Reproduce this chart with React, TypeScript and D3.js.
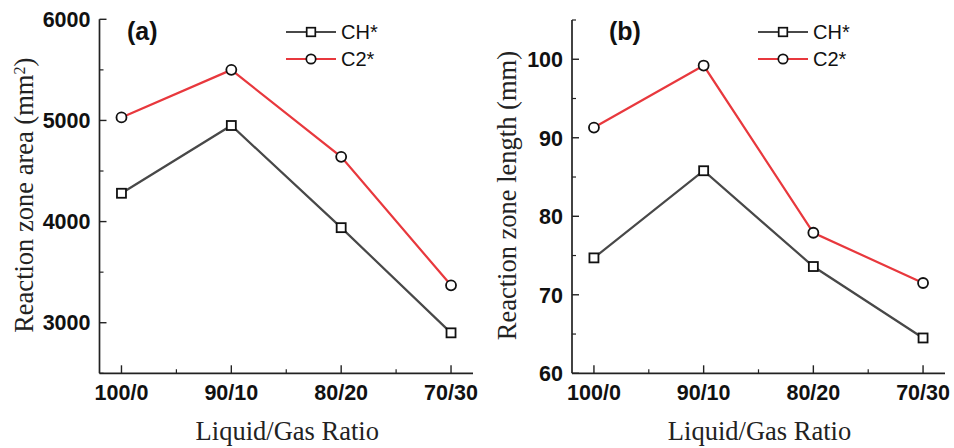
import React from "react";
import * as d3 from "d3";

const categories = ["100/0", "90/10", "80/20", "70/30"];
const seriesNames = ["CH*", "C2*"];

const areaCH = [4280, 4950, 3940, 2900];
const areaC2 = [5030, 5500, 4640, 3370];
const areaTicks = [3000, 4000, 5000, 6000];
const areaMinorTicks = [2500, 3500, 4500, 5500];

const lengthCH = [74.7, 85.8, 73.6, 64.5];
const lengthC2 = [91.3, 99.2, 77.9, 71.5];
const lengthTicks = [60, 70, 80, 90, 100];
const lengthMinorTicks = [65, 75, 85, 95, 105];

const COLORS = ["#484848", "#e8383d"];
const AXIS = "#222";

type PanelProps = {
  x0: number;
  x1: number;
  yTop: number;
  yBottom: number;
  domain: [number, number];
  ticks: number[];
  minor: number[];
  series: number[][];
  label: string;
  yTitle: React.ReactNode;
  yTitleX: number;
  legendX: number;
  panelLabelX: number;
};

function Panel(p: PanelProps) {
  const x = d3.scaleLinear().domain([-0.2, 3.2]).range([p.x0, p.x1]);
  const y = d3.scaleLinear().domain(p.domain).range([p.yBottom, p.yTop]);
  const line = d3
    .line<number>()
    .x((_, i) => x(i))
    .y((d) => y(d));
  const midX = (p.x0 + p.x1) / 2;
  const midY = (p.yTop + p.yBottom) / 2;
  const minorX = [0.5, 1.5, 2.5];
  return (
    <g>
      <line x1={p.x0} x2={p.x0} y1={y(p.domain[1])} y2={p.yBottom} stroke={AXIS} strokeWidth={1.7} />
      <line x1={p.x0} x2={p.x1} y1={p.yBottom} y2={p.yBottom} stroke={AXIS} strokeWidth={1.7} />
      {p.ticks.map((t) => (
        <g key={"yt" + t}>
          <line x1={p.x0} x2={p.x0 + 7} y1={y(t)} y2={y(t)} stroke={AXIS} strokeWidth={1.4} />
          <text
            x={p.x0 - 9}
            y={y(t)}
            dy="0.36em"
            textAnchor="end"
            fontFamily="Liberation Sans, Arial, sans-serif"
            fontWeight="bold"
            fontSize={21.5}
            fill="#111"
          >
            {t}
          </text>
        </g>
      ))}
      {p.minor.map((t) => (
        <line key={"ym" + t} x1={p.x0} x2={p.x0 + 4} y1={y(t)} y2={y(t)} stroke={AXIS} strokeWidth={1.2} />
      ))}
      {categories.map((c, i) => (
        <g key={"xt" + c}>
          <line x1={x(i)} x2={x(i)} y1={p.yBottom} y2={p.yBottom - 8} stroke={AXIS} strokeWidth={1.4} />
          <text
            x={x(i)}
            y={p.yBottom + 27}
            textAnchor="middle"
            fontFamily="Liberation Sans, Arial, sans-serif"
            fontWeight="bold"
            fontSize={21.5}
            fill="#111"
          >
            {c}
          </text>
        </g>
      ))}
      {minorX.map((m) => (
        <line key={"xm" + m} x1={x(m)} x2={x(m)} y1={p.yBottom} y2={p.yBottom - 4} stroke={AXIS} strokeWidth={1.2} />
      ))}
      <text
        x={midX + 1}
        y={440}
        textAnchor="middle"
        fontFamily="Liberation Serif, Times New Roman, serif"
        fontSize={26.5}
        fill="#222"
      >
        Liquid/Gas Ratio
      </text>
      <text
        transform={`translate(${p.yTitleX},${midY - 1}) rotate(-90)`}
        textAnchor="middle"
        fontFamily="Liberation Serif, Times New Roman, serif"
        fontSize={26.5}
        fill="#222"
      >
        {p.yTitle}
      </text>
      <text
        x={p.panelLabelX}
        y={40}
        fontFamily="Liberation Sans, Arial, sans-serif"
        fontWeight="bold"
        fontSize={25}
        fill="#111"
      >
        {p.label}
      </text>
      {p.series.map((s, si) => (
        <path key={"l" + si} d={line(s) || ""} fill="none" stroke={COLORS[si]} strokeWidth={2.2} />
      ))}
      {p.series[0].map((v, i) => (
        <rect
          key={"sq" + i}
          x={x(i) - 4.5}
          y={y(v) - 4.5}
          width={9}
          height={9}
          fill="#fff"
          stroke="#111"
          strokeWidth={1.8}
        />
      ))}
      {p.series[1].map((v, i) => (
        <circle key={"ci" + i} cx={x(i)} cy={y(v)} r={5} fill="#fff" stroke="#111" strokeWidth={1.8} />
      ))}
      {seriesNames.map((n, si) => {
        const ly = 32 + si * 27;
        return (
          <g key={"lg" + n}>
            <line x1={p.legendX} x2={p.legendX + 50} y1={ly} y2={ly} stroke={COLORS[si]} strokeWidth={2.2} />
            {si === 0 ? (
              <rect x={p.legendX + 25 - 4.3} y={ly - 4.3} width={8.6} height={8.6} fill="#fff" stroke="#111" strokeWidth={1.7} />
            ) : (
              <circle cx={p.legendX + 25} cy={ly} r={4.7} fill="#fff" stroke="#111" strokeWidth={1.7} />
            )}
            <text
              x={p.legendX + 55}
              y={ly}
              dy="0.36em"
              fontFamily="Liberation Sans, Arial, sans-serif"
              fontSize={20}
              fill="#111"
            >
              {n}
            </text>
          </g>
        );
      })}
    </g>
  );
}

export default function App() {
  return (
    <svg
      width={954}
      height={448}
      style={{ position: "absolute", left: 0, top: 0, background: "#fff" }}
    >
      <rect width={954} height={448} fill="#fff" />
      <Panel
        x0={99.5}
        x1={473}
        yTop={19.3}
        yBottom={373.3}
        domain={[2500, 6000]}
        ticks={areaTicks}
        minor={areaMinorTicks}
        series={[areaCH, areaC2]}
        label="(a)"
        yTitle={
          <>
            Reaction zone area (mm
            <tspan baselineShift="super" fontSize={16}>
              2
            </tspan>
            )
          </>
        }
        yTitleX={33}
        legendX={286}
        panelLabelX={127}
      />
      <Panel
        x0={572}
        x1={945}
        yTop={20}
        yBottom={373.3}
        domain={[60, 105]}
        ticks={lengthTicks}
        minor={lengthMinorTicks}
        series={[lengthCH, lengthC2]}
        label="(b)"
        yTitle={<>Reaction zone length (mm)</>}
        yTitleX={516}
        legendX={758}
        panelLabelX={609}
      />
    </svg>
  );
}
